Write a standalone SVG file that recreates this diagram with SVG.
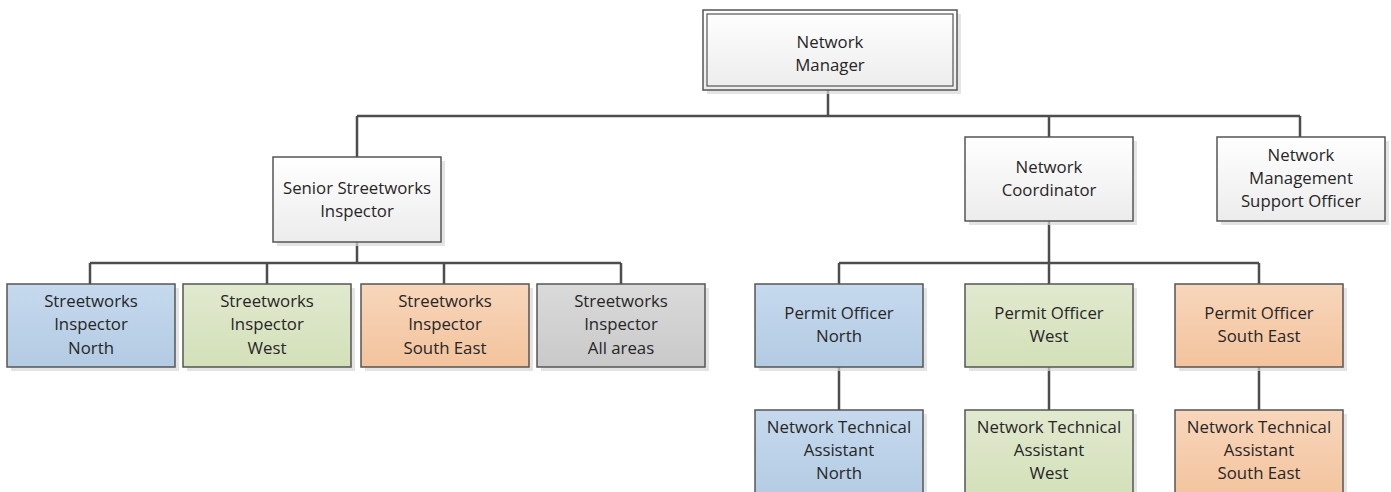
<svg xmlns="http://www.w3.org/2000/svg" width="1391" height="492" viewBox="0 0 1391 492">
<defs>
<linearGradient id="gWhite" x1="0" y1="0" x2="0" y2="1"><stop offset="0" stop-color="#ffffff"/><stop offset="1" stop-color="#ececec"/></linearGradient>
<linearGradient id="gBlue" x1="0" y1="0" x2="0" y2="1"><stop offset="0" stop-color="#c6d9ee"/><stop offset="1" stop-color="#b3cbe3"/></linearGradient>
<linearGradient id="gGreen" x1="0" y1="0" x2="0" y2="1"><stop offset="0" stop-color="#e1e9cf"/><stop offset="1" stop-color="#d3e0b9"/></linearGradient>
<linearGradient id="gOrange" x1="0" y1="0" x2="0" y2="1"><stop offset="0" stop-color="#f8d6bb"/><stop offset="1" stop-color="#f3c39d"/></linearGradient>
<linearGradient id="gGray" x1="0" y1="0" x2="0" y2="1"><stop offset="0" stop-color="#dadada"/><stop offset="1" stop-color="#c9c9c9"/></linearGradient>
</defs>
<style>
.box{stroke:#555555;stroke-width:1.5}
.sh{fill:#d8d8d8;opacity:0.7}
.w{fill:url(#gWhite)}
.b{fill:url(#gBlue)}
.g{fill:url(#gGreen)}
.o{fill:url(#gOrange)}
.gr{fill:url(#gGray)}
text{font-family:"Open Sans","Noto Sans","Liberation Sans",sans-serif;font-size:16.8px;fill:#262626;text-anchor:middle}
.c{fill:none;stroke:#4d4d4d;stroke-width:2.5}
</style>
<g id="connectors">
<path class="c" d="M828 90V116M357 116H1300M357 116V157M1049 116V137M1300 116V137"/>
<path class="c" d="M357 242V263M90 263H621M90 263V284M267 263V284M444 263V284M621 263V284"/>
<path class="c" d="M1049 221V263M839 263H1259M839 263V284M1049 263V284M1259 263V284"/>
<path class="c" d="M839 367V410M1049 367V410M1259 367V410"/>
</g>
<g id="network-manager">
<rect class="sh" x="707" y="14" width="254" height="80"/>
<rect class="box w" x="703" y="10" width="254" height="80"/>
<rect x="707" y="14" width="246" height="72" fill="none" stroke="#555555" stroke-width="1.2"/>
<text x="830" y="48">Network</text>
<text x="830" y="71">Manager</text>
</g>
<g id="senior-streetworks-inspector">
<rect class="sh" x="277" y="161" width="168" height="85"/>
<rect class="box w" x="273" y="157" width="168" height="85"/>
<text x="357" y="194">Senior Streetworks</text>
<text x="357" y="217">Inspector</text>
</g>
<g id="network-coordinator">
<rect class="sh" x="969" y="141" width="168" height="84"/>
<rect class="box w" x="965" y="137" width="168" height="84"/>
<text x="1049" y="173">Network</text>
<text x="1049" y="196">Coordinator</text>
</g>
<g id="network-management-support-officer">
<rect class="sh" x="1221" y="141" width="168" height="84"/>
<rect class="box w" x="1217" y="137" width="168" height="84"/>
<text x="1301" y="161">Network</text>
<text x="1301" y="184">Management</text>
<text x="1301" y="207">Support Officer</text>
</g>
<g id="si-north">
<rect class="sh" x="11" y="288" width="168" height="83"/>
<rect class="box b" x="7" y="284" width="168" height="83"/>
<text x="91" y="307">Streetworks</text>
<text x="91" y="330">Inspector</text>
<text x="91" y="354">North</text>
</g>
<g id="si-west">
<rect class="sh" x="187" y="288" width="168" height="83"/>
<rect class="box g" x="183" y="284" width="168" height="83"/>
<text x="267" y="307">Streetworks</text>
<text x="267" y="330">Inspector</text>
<text x="267" y="354">West</text>
</g>
<g id="si-south-east">
<rect class="sh" x="365" y="288" width="168" height="83"/>
<rect class="box o" x="361" y="284" width="168" height="83"/>
<text x="445" y="307">Streetworks</text>
<text x="445" y="330">Inspector</text>
<text x="445" y="354">South East</text>
</g>
<g id="si-all-areas">
<rect class="sh" x="541" y="288" width="168" height="83"/>
<rect class="box gr" x="537" y="284" width="168" height="83"/>
<text x="621" y="307">Streetworks</text>
<text x="621" y="330">Inspector</text>
<text x="621" y="354">All areas</text>
</g>
<g id="po-north">
<rect class="sh" x="759" y="288" width="168" height="83"/>
<rect class="box b" x="755" y="284" width="168" height="83"/>
<text x="839" y="319">Permit Officer</text>
<text x="839" y="342">North</text>
</g>
<g id="po-west">
<rect class="sh" x="969" y="288" width="168" height="83"/>
<rect class="box g" x="965" y="284" width="168" height="83"/>
<text x="1049" y="319">Permit Officer</text>
<text x="1049" y="342">West</text>
</g>
<g id="po-south-east">
<rect class="sh" x="1179" y="288" width="168" height="83"/>
<rect class="box o" x="1175" y="284" width="168" height="83"/>
<text x="1259" y="319">Permit Officer</text>
<text x="1259" y="342">South East</text>
</g>
<g id="nta-north">
<rect class="sh" x="759" y="414" width="168" height="90"/>
<rect class="box b" x="755" y="410" width="168" height="90"/>
<text x="839" y="433">Network Technical</text>
<text x="839" y="456">Assistant</text>
<text x="839" y="479">North</text>
</g>
<g id="nta-west">
<rect class="sh" x="969" y="414" width="168" height="90"/>
<rect class="box g" x="965" y="410" width="168" height="90"/>
<text x="1049" y="433">Network Technical</text>
<text x="1049" y="456">Assistant</text>
<text x="1049" y="479">West</text>
</g>
<g id="nta-south-east">
<rect class="sh" x="1179" y="414" width="168" height="90"/>
<rect class="box o" x="1175" y="410" width="168" height="90"/>
<text x="1259" y="433">Network Technical</text>
<text x="1259" y="456">Assistant</text>
<text x="1259" y="479">South East</text>
</g>
</svg>
